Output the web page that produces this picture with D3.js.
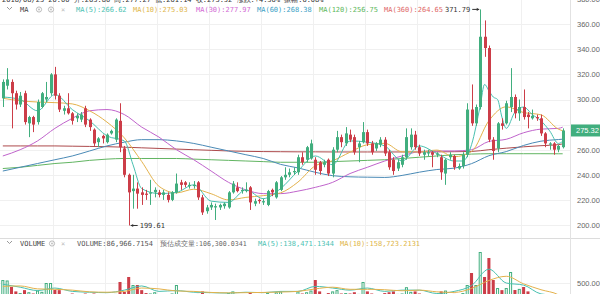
<!DOCTYPE html>
<html><head><meta charset="utf-8">
<script src="https://cdn.jsdelivr.net/npm/d3@7"></script>
<style>html,body{margin:0;padding:0;background:#fff;overflow:hidden}</style>
</head><body>
<svg id="c" width="600" height="294" xmlns="http://www.w3.org/2000/svg"></svg>
<script>
// ---------- DATA ----------
const opens = [301,311,314,305,296,305,281,286,282,294, 300,305,320,303,291,293,289,285,284,293,
 284,276,266,271,266,273,268,283,261,240, 227,229,226,225,225,226,226,224,224,220,
 226,234,234,231,231,234,222,211,214,214, 214,215,214,226,230,227,227,230,217,220,
 218,216,228,222,228,238,240,242,242,254, 252,253,252,250,248,252,241,260,270,265,
 272,270,262,266,274,265,261,264,268,258, 252,245,248,254,262,272,262,256,257,258,
 256,254,241,254,255,245,247,256,292,281, 294,350,341,268,261,281,281,294,302,289,
 294,288,285,286,285,273,264,265,260,262];
const highs = [316,325,316,307,306,307,287,287,300,306, 314,321,326,305,295,305,290,289,290,295,
 285,277,270,272,273,276,285,297,263,241, 240,234,230,228,236,230,228,228,226,227,
 241,236,235,234,235,235,224,216,218,217, 217,218,227,235,234,230,234,231,221,221,
 221,228,229,235,239,246,245,246,256,258, 263,268,254,251,252,253,262,275,272,278,
 276,272,267,282,276,267,266,270,270,260, 254,252,256,277,277,275,264,260,260,259,
 258,256,253,258,256,249,258,297,312,296, 371.79,363,343,270,282,285,299,325,304,300,
 308,290,292,288,288,274,266,266,264,277];
const lows = [294,308,277,292,294,280,270,274,280,293, 298,303,300,290,288,288,280,282,282,278,
 275,263,262,265,265,272,266,258,238,199.61, 213,213,216,220,216,222,222,220,218,219,
 225,228,230,229,229,220,208,209,212,204, 212,213,213,225,226,225,226,212,215,217,
 216,215,223,221,227,236,238,240,240,248, 250,252,240,240,246,239,238,258,262,263,
 266,256,250,265,263,256,259,262,255,244, 240,243,246,252,260,260,255,252,255,246,
 254,236,232,252,244,244,245,254,279,279, 292,334,266,252,258,276,280,290,285,283,
 284,277,284,283,271,262,260,256,258,261];
const closes = [314,316,305,296,303,282,286,280,298,305, 302,320,303,292,293,289,283,287,288,280,
 278,265,269,269,272,275,284,262,240,226, 229,225,224,224,226,228,224,226,220,226,
 233,232,232,232,232,222,210,214,216,215, 216,217,226,233,227,228,228,218,219,219,
 219,227,226,234,238,240,242,243,254,250, 262,265,244,243,250,241,260,270,266,273,
 268,258,265,274,265,258,265,268,257,246, 243,250,254,270,272,262,257,258,258,256,
 257,242,252,256,246,247,256,292,281,294, 350,341,268,259,281,279,297,302,289,294,
 286,286,287,285,273,265,265,260,263,275.32];
// volume, thousands
const volumes = [570,560,405,300,260,330,280,250,320,290, 500,500,333,330,220,230,250,210,220,250,
 230,250,200,190,210,200,240,524,286,643, 452,452,330,260,250,280,230,210,230,250,
 452,230,210,200,210,240,300,210,200,220, 200,210,260,300,220,200,210,280,200,190,
 200,260,210,280,300,230,210,200,300,250, 280,320,571,300,210,260,300,330,250,260,
 250,280,240,524,300,250,200,220,260,280, 300,240,250,400,290,300,250,210,200,190,
 200,300,320,210,240,200,260,452,738,452, 1238,643,1095,571,380,330,380,762,333,360,
 405,300,220,200,200,210,190,210,180,87];

const ma5Idx = [0,4,8,12,16,20,24,28,30,32,36,40,44,48,52,56,60,64,68,72,76,80,84,88,92,96,100,104,106,108,110,111,112,113,114,115,116,118,120,122,124,126,128,129];
const ma5 = [302,300,291,304,292,283,271,267,248,229,225,226,232,219,218,228,221,229,243,255,248,267,266,263,251,263,257,251,251,264,295,312,307,302,300,286,277,290,294,288,283,275,265,266.62];
const maIdx = [0,4,8,12,16,20,24,28,32,36,40,44,48,52,56,60,64,68,72,76,80,84,88,92,96,100,104,108,112,116,120,124,128,129];
const ma10 = [301,299,298,297.5,296.5,291,282,269.4,250.6,230.8,225.6,228.5,224.9,220,222,223.4,225.6,234.2,247.2,251.2,258,264,265.1,258.3,258.2,259.7,254.4,258.5,283.1,294.2,289.6,287.8,276.4,275.03];
const ma30 = [255,260,267,277,285,291,292,288,278,270,260,252,243,234,228,225,225,227,230,234,241,246,251,255,258.5,259,259,260,266.6,268.3,273.5,276.4,277,277.97];
const ma60 = [243,246,249,252,255,259,263,266,268,268,267,265,262,259,256,253,248.3,245.5,242,239.3,238.4,238.1,237.9,239.5,242.1,244.2,245.3,248.9,255.2,258.5,263.4,266.8,268.1,268.38];
const ma120 = [245,246,247.5,249,250,251.5,252.5,253,253,253,253,252.5,252,251.5,251,250.5,250,250,250,250.5,251,251.5,252,253,254,255,256,256.5,256.8,256.8,256.8,256.8,256.75,256.75];
const ma360 = [263,263,263,263,262.8,262.6,262.4,262,261.5,261,260.5,260,259.5,259,258.7,258.5,258.4,258.3,258.3,258.2,258.2,258.2,258.2,258.2,258.2,258.3,258.4,258.6,260,261.2,262.3,263.2,264,264.65];
const volMa5 = [470,400,320,380,300,280,270,330,430,300,320,280,270,260,280,270,300,300,420,380,330,380,300,330,330,250,300,440,830,500,450,240,200,138];
const volMa10 = [420,430,360,350,330,290,280,300,380,360,310,300,275,265,270,275,285,300,360,400,350,350,340,315,330,290,275,370,560,660,480,340,220,158];

const priceTicks = [200,220,240,260,280,300,320,340,360,380];
const volTicks = [500];
const gridIdx = [12,24,36,48,60,72,84,96,108,120];

const topLine = "2018/08/25 20:00  开:263.80  高:277.27  低:261.14  收:275.32  涨跌:+4.36%  振幅:6.08%";
const maLabels = ["MA(5):266.62","MA(10):275.03","MA(30):277.97","MA(60):268.38","MA(120):256.75","MA(360):264.65"];
const volLabels = ["VOLUME:86,966.7154","预估成交量:106,300.0341","MA(5):138,471.1344","MA(10):158,723.2131"];
const lastPrice = 275.32, maxPrice = 371.79, minPrice = 199.61;

// ---------- STYLE ----------
const UP = "#41ae7e", DOWN = "#cc3d48";
const maText = ["#4cc2b3","#e0b64a","#d26ad4","#3a9fc6","#5cb75c","#e06868"];
const maLine = ["#48c0b0","#e4b24c","#c064cc","#4a8ab6","#62b562","#ad4a4c"];
const MONO = "'DejaVu Sans Mono', monospace";
const SANS = "'Liberation Sans', Arial, sans-serif";

const svg = d3.select("#c");
const PR = 570, MB = 238, H = 294;
const n = opens.length;
const x = d3.scaleBand().domain(d3.range(n)).range([0, 565.5]).paddingInner(0.3).paddingOuter(0.3);
const bw = x.bandwidth();
const cx = i => x(i) + bw / 2;
const y = d3.scaleLinear().domain([200, 360]).range([225, 24.2]);
const yv = d3.scaleLinear().domain([0, 500]).range([304, 283]);

const defs = svg.append("defs");
defs.append("clipPath").attr("id","cm").append("rect").attr("x",0).attr("y",0).attr("width",PR).attr("height",MB);
defs.append("clipPath").attr("id","cv").append("rect").attr("x",0).attr("y",MB+1).attr("width",PR).attr("height",H-MB);

// grid
const g = svg.append("g");
g.selectAll("line.hg").data(priceTicks).join("line")
  .attr("x1",0).attr("x2",PR).attr("y1",d=>Math.round(y(d))+0.5).attr("y2",d=>Math.round(y(d))+0.5)
  .attr("stroke","#f0f0f0");
g.selectAll("line.vg").data(volTicks).join("line")
  .attr("x1",0).attr("x2",PR).attr("y1",d=>Math.round(yv(d))+0.5).attr("y2",d=>Math.round(yv(d))+0.5)
  .attr("stroke","#f0f0f0");
g.selectAll("line.xg").data(gridIdx).join("line")
  .attr("x1",d=>Math.round(x(d)-x.step()*0.15)+0.5).attr("x2",d=>Math.round(x(d)-x.step()*0.15)+0.5)
  .attr("y1",0).attr("y2",H).attr("stroke","#f0f0f0");

// separators
svg.append("line").attr("x1",0).attr("x2",600).attr("y1",MB+0.5).attr("y2",MB+0.5).attr("stroke","#dcdcdc");
svg.append("line").attr("x1",PR+0.5).attr("x2",PR+0.5).attr("y1",0).attr("y2",H).attr("stroke","#e2e2e2");

// right axis (labels hidden where the last-price tag covers them)
const yl = y(lastPrice);
const shownTicks = priceTicks.filter(d => Math.abs(y(d) - yl) > 9);
const ax = svg.append("g").attr("transform",`translate(${PR},0)`)
  .call(d3.axisRight(y).tickValues(shownTicks).tickSize(0).tickPadding(7).tickFormat(d3.format(".2f")));
ax.select(".domain").remove();
ax.selectAll("text").attr("fill","#666").style("font-family",SANS).style("font-size","7.5px");
const axv = svg.append("g").attr("transform",`translate(${PR},0)`)
  .call(d3.axisRight(yv).tickValues(volTicks).tickSize(0).tickPadding(7).tickFormat(d=>d3.format(".2f")(d)+"K"));
axv.select(".domain").remove();
axv.selectAll("text").attr("fill","#666").style("font-family",SANS).style("font-size","7.5px");

// volume bars
const vg = svg.append("g").attr("clip-path","url(#cv)");
const idx = d3.range(n);
vg.selectAll("rect").data(idx).join("rect")
  .attr("x",i=> closes[i]>=opens[i] ? x(i)+0.5 : x(i))
  .attr("width",i=> closes[i]>=opens[i] ? bw-1 : bw)
  .attr("y",i=> closes[i]>=opens[i] ? yv(volumes[i])+0.5 : yv(volumes[i]))
  .attr("height",i=> 304 - yv(volumes[i]))
  .attr("fill",i=> closes[i]>=opens[i] ? "#fff" : DOWN)
  .attr("stroke",i=> closes[i]>=opens[i] ? UP : "none")
  .attr("stroke-width",1);
[[volMa5,maLine[0]],[volMa10,maLine[1]]].forEach(([vals,col])=>{
  vg.append("path").datum(maIdx.map((k,j)=>[cx(k),yv(vals[j])]))
    .attr("d",d3.line().curve(d3.curveMonotoneX)).attr("fill","none").attr("stroke",col).attr("stroke-width",1);
});

// MA lines
const mg = svg.append("g").attr("clip-path","url(#cm)");
const series = [[ma360,maIdx,5],[ma120,maIdx,4],[ma60,maIdx,3],[ma30,maIdx,2],[ma10,maIdx,1],[ma5,ma5Idx,0]];
series.forEach(([vals,ix,c])=>{
  mg.append("path").datum(ix.map((k,j)=>[cx(k),y(vals[j])]))
    .attr("d",d3.line().curve(d3.curveMonotoneX)).attr("fill","none")
    .attr("stroke",maLine[c]).attr("stroke-width",1);
});

// candles
const cg = svg.append("g").attr("clip-path","url(#cm)");
const col = i => closes[i]>=opens[i] ? UP : DOWN;
cg.selectAll("line").data(idx).join("line")
  .attr("x1",i=>Math.round(cx(i))+0.5).attr("x2",i=>Math.round(cx(i))+0.5)
  .attr("y1",i=>y(highs[i])).attr("y2",i=>y(lows[i])).attr("stroke",col).attr("stroke-width",1);
cg.selectAll("rect").data(idx).join("rect")
  .attr("x",i=>Math.round(cx(i))-1).attr("width",3)
  .attr("y",i=>y(Math.max(opens[i],closes[i])))
  .attr("height",i=>Math.max(1,Math.abs(y(opens[i])-y(closes[i]))))
  .attr("fill",col);

// max / min markers
const iMax = highs.indexOf(maxPrice), iMin = lows.indexOf(minPrice);
const mk = svg.append("g").style("font-family",MONO).style("font-size","7px").attr("fill","#333");
const yMx = y(maxPrice), xMx = cx(iMax);
mk.append("line").attr("x1",xMx-8).attr("x2",xMx-1).attr("y1",yMx).attr("y2",yMx).attr("stroke","#333");
mk.append("path").attr("d",`M${xMx-1},${yMx} l-2.5,-1.6 v3.2 z`).attr("fill","#333");
mk.append("text").attr("x",xMx-10).attr("y",yMx+2.5).attr("text-anchor","end").text(d3.format(".2f")(maxPrice));
const yMn = y(minPrice), xMn = cx(iMin);
mk.append("line").attr("x1",xMn+2).attr("x2",xMn+9).attr("y1",yMn).attr("y2",yMn).attr("stroke","#333");
mk.append("path").attr("d",`M${xMn+2},${yMn} l2.5,-1.6 v3.2 z`).attr("fill","#333");
mk.append("text").attr("x",xMn+11).attr("y",yMn+2.5).text(d3.format(".2f")(minPrice));

// last price tag
svg.append("rect").attr("x",PR+1).attr("y",yl-6).attr("width",30).attr("height",12).attr("fill",UP);
svg.append("text").attr("x",PR+6).attr("y",yl+2.6).attr("fill","#fff")
  .style("font-family",SANS).style("font-size","7.5px").text(d3.format(".2f")(lastPrice));

// header rows
const hd = svg.append("g").style("font-family",MONO).style("font-size","7px");
hd.append("text").attr("x",2).attr("y",1.6).attr("fill","#333").text(topLine);
function headIcons(yy, name){
  hd.append("path").attr("d",`M7,${yy-5} l2.5,2.5 l2.5,-2.5`).attr("fill","none").attr("stroke","#999");
  hd.append("text").attr("x",20).attr("y",yy).attr("fill","#444").text(name);
}
headIcons(12,"MA");
[39,51].forEach(cxx=>{
  hd.append("circle").attr("cx",cxx).attr("cy",9.5).attr("r",2.6).attr("fill","none").attr("stroke","#bbb");
  hd.append("circle").attr("cx",cxx).attr("cy",9.5).attr("r",0.9).attr("fill","#bbb");
});
hd.append("text").attr("x",61).attr("y",12).attr("fill","#bbb").text("×");
const maX = [76,133,196,257,319,384];
maLabels.forEach((t,k)=>hd.append("text").attr("x",maX[k]).attr("y",12).attr("fill",maText[k]).text(t));

headIcons(246,"VOLUME");
hd.append("circle").attr("cx",52).attr("cy",243.5).attr("r",2.6).attr("fill","none").attr("stroke","#bbb");
hd.append("circle").attr("cx",52).attr("cy",243.5).attr("r",0.9).attr("fill","#bbb");
hd.append("text").attr("x",61).attr("y",246).attr("fill","#bbb").text("×");
const vX = [77,160,258,340];
const vCol = ["#555","#666",maText[0],maText[1]];
volLabels.forEach((t,k)=>hd.append("text").attr("x",vX[k]).attr("y",246).attr("fill",vCol[k])
  .style("font-size", k===1 ? "6.6px" : "7px").text(t));
</script>
</body></html>
